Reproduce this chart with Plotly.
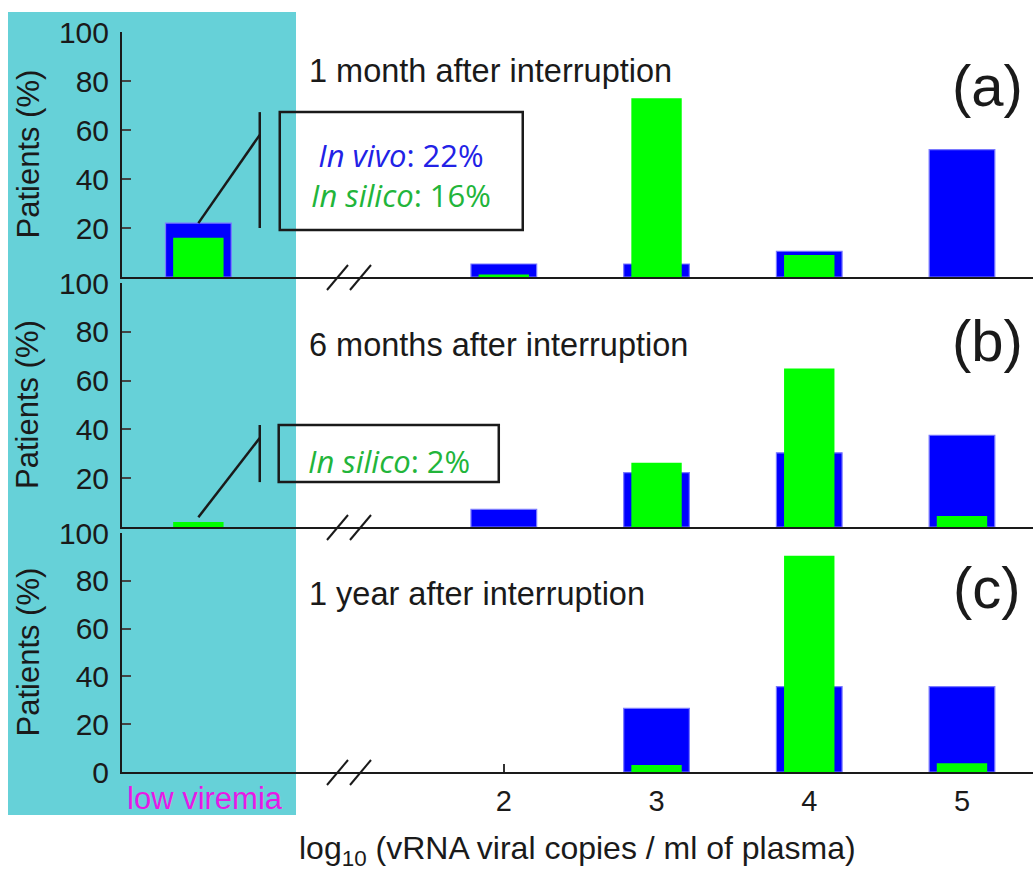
import plotly.graph_objects as go

# Viremia classes on a log10 scale; 0 stands for the "low viremia" class
categories = [0, 2, 3, 4, 5]
x_tick_vals = [2, 3, 4, 5]
x_tick_text = ["2", "3", "4", "5"]
y_ticks_upper = [20, 40, 60, 80, 100]
y_ticks_bottom = [0, 20, 40, 60, 80, 100]

# Percentage of patients per class (in vivo = blue, in silico = green)
in_vivo_1m = [22, 5.3, 5.3, 10.5, 52]
in_silico_1m = [16, 1, 73, 9, 0]
in_vivo_6m = [0, 7.2, 22.3, 30.4, 37.6]
in_silico_6m = [2, 0, 26.3, 65, 4.5]
in_vivo_1y = [0, 0, 26.6, 35.7, 35.7]
in_silico_1y = [0, 0, 2.9, 90.5, 3.7]

panel_titles = ["1 month after interruption", "6 months after interruption",
                "1 year after interruption"]
panel_tags = ["(a)", "(b)", "(c)"]

W, H = 1033, 870
FONT = "Liberation Sans, Arial, sans-serif"
CALLOUT = "Open Sans, Noto Sans, sans-serif"
BLUE = "#0000ff"
GREEN = "#00ff00"
INK = "#1a1a1a"
VIVO_TXT = "#2222e6"
SILICO_TXT = "#22b53a"


def px(x):
    return x / W


def py(y):
    return 1 - y / H


# panel vertical extents in pixels (top, bottom)
panels = [(32, 277), (283, 527), (533, 772)]
x_dom = [px(122), 1.0]
x_rng = [-0.5, 5.465]

fig = go.Figure()
series = [(in_vivo_1m, in_silico_1m), (in_vivo_6m, in_silico_6m),
          (in_vivo_1y, in_silico_1y)]

for i, (viv, sil) in enumerate(series):
    xa = "x" if i == 0 else f"x{i+1}"
    ya = "y" if i == 0 else f"y{i+1}"
    # empty classes get no outline so nothing is drawn for them
    edge = [1.2 if v > 0 else 0 for v in viv]
    fig.add_trace(go.Bar(x=categories, y=viv, width=0.43, xaxis=xa, yaxis=ya,
                         marker=dict(color=BLUE, line=dict(color="#7a7aff", width=edge)),
                         showlegend=False, hoverinfo="skip"))
    fig.add_trace(go.Bar(x=categories, y=sil, width=0.33, xaxis=xa, yaxis=ya,
                         marker=dict(color=GREEN, line=dict(width=0)),
                         showlegend=False, hoverinfo="skip"))

layout = dict(
    width=W, height=H, margin=dict(l=0, r=0, t=0, b=0, autoexpand=False),
    paper_bgcolor="white", plot_bgcolor="rgba(0,0,0,0)",
    barmode="overlay", font=dict(family=FONT, color=INK),
)

for i, (top, bot) in enumerate(panels):
    sfx = "" if i == 0 else str(i + 1)
    last = i == 2
    layout[f"xaxis{sfx}"] = dict(
        domain=x_dom, range=x_rng, anchor=f"y{sfx}", automargin=False,
        showline=True, linecolor=INK, linewidth=2,
        showgrid=False, zeroline=False, layer="below traces",
        tickvals=x_tick_vals, ticktext=x_tick_text,
        ticks="inside" if last else "", ticklen=8, tickwidth=1.5, tickcolor="#333",
        showticklabels=last, tickfont=dict(size=29, family=FONT, color=INK),
        ticklabelstandoff=2,
    )
    layout[f"yaxis{sfx}"] = dict(
        domain=[py(bot), py(top)], range=[0, 100], anchor=f"x{sfx}", automargin=False,
        showline=True, linecolor=INK, linewidth=2,
        showgrid=False, zeroline=False, layer="below traces",
        tickvals=y_ticks_bottom if last else y_ticks_upper,
        ticks="inside", ticklen=9, tickwidth=2, tickcolor="#444",
        tickfont=dict(size=30, family=FONT, color=INK),
        ticklabelstandoff=5,
    )

fig.update_layout(**layout)

shapes = [
    # shaded low-viremia region
    dict(type="rect", xref="paper", yref="paper", x0=px(8), x1=px(296),
         y0=py(815), y1=py(12), fillcolor="#66d1d8", line=dict(width=0), layer="below"),
]

# axis-break marks on every panel
for top, bot in panels:
    for x0 in (327, 350):
        shapes.append(dict(type="line", xref="paper", yref="paper",
                           x0=px(x0), y0=py(bot + 13), x1=px(x0 + 21), y1=py(bot - 12),
                           line=dict(color=INK, width=2)))

# callout boxes and pointers (panels a and b)
shapes += [
    dict(type="rect", xref="x", yref="y", x0=0.533, x1=2.124, y0=19.2, y1=67.3,
         line=dict(color=INK, width=2.5)),
    dict(type="line", xref="x", yref="y", x0=0.402, x1=0.402, y0=20, y1=67.3,
         line=dict(color=INK, width=2.5)),
    dict(type="line", xref="x", yref="y", x0=0, y0=in_vivo_1m[0], x1=0.402, y1=58,
         line=dict(color=INK, width=2.5)),
    dict(type="rect", xref="x2", yref="y2", x0=0.526, x1=1.967, y0=18.4, y1=41.8,
         line=dict(color=INK, width=2.5)),
    dict(type="line", xref="x2", yref="y2", x0=0.402, x1=0.402, y0=18.4, y1=41.8,
         line=dict(color=INK, width=2.5)),
    dict(type="line", xref="x2", yref="y2", x0=0, y0=4, x1=0.402, y1=36.5,
         line=dict(color=INK, width=2.5)),
]

annotations = []
title_y = [84, 74.6, 74.5]
tag_y = [78, 76.6, 77]
for i in range(3):
    sfx = "" if i == 0 else str(i + 1)
    annotations.append(dict(x=0.71, y=title_y[i], xref=f"x{sfx}", yref=f"y{sfx}",
                            text=panel_titles[i], showarrow=False, xanchor="left",
                            yanchor="middle", font=dict(size=32.5, family=FONT, color=INK)))
    annotations.append(dict(x=5.164, y=tag_y[i], xref=f"x{sfx}", yref=f"y{sfx}",
                            text=panel_tags[i], showarrow=False, xanchor="center",
                            yanchor="middle", font=dict(size=58, family=FONT, color=INK)))
    top, bot = panels[i]
    annotations.append(dict(x=px(28), y=py((top + bot) / 2), xref="paper", yref="paper",
                            text="Patients (%)", textangle=-90, showarrow=False,
                            xanchor="center", yanchor="middle",
                            font=dict(size=31, family=FONT, color=INK)))

callout_a = (f"<span style='color:{VIVO_TXT}'><i>In vivo</i>: {in_vivo_1m[0]}%</span><br>"
             f"<span style='color:{SILICO_TXT}'><i>In silico</i>: {in_silico_1m[0]}%</span>")
annotations += [
    dict(x=1.33, y=41.5, xref="x", yref="y", showarrow=False,
         xanchor="center", yanchor="middle", align="center", text=callout_a,
         font=dict(size=31, family=CALLOUT, color=VIVO_TXT)),
    dict(x=1.25, y=27, xref="x2", yref="y2", showarrow=False,
         xanchor="center", yanchor="middle",
         text=f"<i>In silico</i>: {in_silico_6m[0]}%",
         font=dict(size=31, family=CALLOUT, color=SILICO_TXT)),
    dict(x=px(205), y=py(798), xref="paper", yref="paper", showarrow=False,
         xanchor="center", yanchor="middle",
         text="low viremia", font=dict(size=31, family=FONT, color="#e619e6")),
    dict(x=px(577), y=py(850), xref="paper", yref="paper", showarrow=False,
         xanchor="center", yanchor="middle",
         text="log<sub>10</sub> (vRNA viral copies / ml of plasma)",
         font=dict(size=32, family=FONT, color=INK)),
]

fig.update_layout(shapes=shapes, annotations=annotations)
fig.write_html("out.html")
